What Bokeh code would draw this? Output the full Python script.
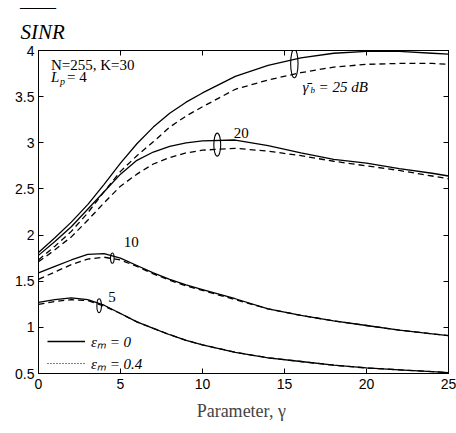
from bokeh.plotting import figure
from bokeh.models import Label, LinearAxis, Range1d, CustomJSTickFormatter, FixedTicker, Legend, LegendItem, Title
from bokeh.embed import file_html
from bokeh.resources import INLINE

# ---- data ----
gamma = [0, 1, 2, 3, 4, 5, 6, 7, 8, 9, 10, 12, 14, 16, 18, 20, 22, 24, 25]

sinr25_e0  = [1.81, 1.97, 2.14, 2.33, 2.55, 2.78, 2.99, 3.17, 3.32, 3.44, 3.54, 3.72, 3.84, 3.92, 3.97, 3.99, 3.99, 3.97, 3.96]
sinr25_e04 = [1.73, 1.88, 2.04, 2.24, 2.47, 2.69, 2.86, 3.01, 3.17, 3.29, 3.39, 3.58, 3.68, 3.76, 3.82, 3.85, 3.86, 3.86, 3.85]
sinr20_e0  = [1.78, 1.93, 2.09, 2.28, 2.47, 2.66, 2.81, 2.90, 2.96, 3.00, 3.02, 3.03, 2.97, 2.89, 2.82, 2.78, 2.72, 2.67, 2.64]
sinr20_e04 = [1.71, 1.84, 1.98, 2.16, 2.35, 2.53, 2.66, 2.77, 2.84, 2.89, 2.92, 2.94, 2.91, 2.86, 2.80, 2.75, 2.70, 2.64, 2.61]
sinr10_e0  = [1.59, 1.66, 1.73, 1.79, 1.80, 1.75, 1.67, 1.59, 1.52, 1.46, 1.41, 1.31, 1.20, 1.13, 1.07, 1.02, 0.97, 0.93, 0.91]
sinr10_e04 = [1.52, 1.60, 1.68, 1.74, 1.76, 1.73, 1.66, 1.58, 1.51, 1.45, 1.40, 1.30, 1.20, 1.13, 1.07, 1.02, 0.97, 0.93, 0.91]
sinr5_e0   = [1.27, 1.30, 1.32, 1.30, 1.24, 1.15, 1.06, 0.99, 0.92, 0.86, 0.81, 0.73, 0.67, 0.63, 0.59, 0.56, 0.54, 0.52, 0.51]
sinr5_e04  = [1.25, 1.28, 1.30, 1.29, 1.23, 1.15, 1.06, 0.99, 0.92, 0.86, 0.81, 0.73, 0.67, 0.63, 0.59, 0.56, 0.54, 0.52, 0.51]

x_ticks = [0, 5, 10, 15, 20, 25]
y_ticks = [0.5, 1, 1.5, 2, 2.5, 3, 3.5, 4]

# group markers (ellipses) : x, y, width, height
ell_x = [15.6, 10.9, 4.5, 3.7]
ell_y = [3.86, 2.98, 1.75, 1.235]
ell_w = [0.45, 0.42, 0.22, 0.28]
ell_h = [0.31, 0.25, 0.11, 0.15]

SERIF = "Liberation Serif"
SANS = "Liberation Sans"

p = figure(width=456, height=433, output_backend="svg", toolbar_location=None,
           x_range=Range1d(0, 25), y_range=Range1d(0.5, 4),
           min_border_left=38, min_border_right=8, min_border_top=47, min_border_bottom=60)
p.xgrid.visible = False
p.ygrid.visible = False
p.outline_line_color = "black"
p.outline_line_width = 1
p.background_fill_color = "white"
p.border_fill_color = "white"

for ax in (p.xaxis[0], p.yaxis[0]):
    ax.major_tick_in = 5
    ax.major_tick_out = 0
    ax.minor_tick_in = 0
    ax.minor_tick_out = 0
    ax.axis_line_color = "black"
    ax.major_label_text_font = SANS
    ax.major_label_text_font_size = "14px"
    ax.major_label_text_color = "black"
p.xaxis.ticker = FixedTicker(ticks=x_ticks)
p.yaxis.ticker = FixedTicker(ticks=y_ticks)
p.xaxis.major_label_standoff = 5
p.yaxis.major_label_standoff = 4
p.xaxis.axis_label = "Parameter,  γ"
p.xaxis.axis_label_text_font = SERIF
p.xaxis.axis_label_text_font_style = "normal"
p.xaxis.axis_label_text_font_size = "18px"
p.xaxis.axis_label_standoff = 9

empty = CustomJSTickFormatter(code="return ''")
ax_r = LinearAxis(ticker=FixedTicker(ticks=y_ticks), formatter=empty, major_tick_in=5, major_tick_out=0,
                  minor_tick_in=0, minor_tick_out=0, major_label_standoff=0)
ax_t = LinearAxis(ticker=FixedTicker(ticks=x_ticks), formatter=empty, major_tick_in=5, major_tick_out=0,
                  minor_tick_in=0, minor_tick_out=0, major_label_standoff=0)
p.add_layout(ax_r, "right")
p.add_layout(ax_t, "above")

# y-axis title: SINR with an overline (two-line title)
p.title = Title(text="‾‾‾‾‾\nSINR", text_font=SERIF, text_font_style="italic", text_font_size="21px",
                text_line_height=0.6, text_color="black", align="left", offset=-18, standoff=10,
                vertical_align="top")

LW = 1.3
DASH = "6 4"
solid_r = None
for ys in (sinr25_e0, sinr20_e0, sinr10_e0, sinr5_e0):
    r = p.line(gamma, ys, line_color="black", line_width=LW)
    if solid_r is None:
        solid_r = r
for ys in (sinr25_e04, sinr20_e04, sinr10_e04, sinr5_e04):
    p.line(gamma, ys, line_color="black", line_width=LW, line_dash=DASH)

p.ellipse(x=ell_x, y=ell_y, width=ell_w, height=ell_h, fill_color=None, line_color="black", line_width=1.1)

# legend (dotted sample for eps=0.4 as in the reference)
nan = float("nan")
dot_r = p.line([nan], [nan], line_color="black", line_width=1, line_dash="1 2")
leg = Legend(items=[LegendItem(label="εₘ = 0", renderers=[solid_r]),
                    LegendItem(label="εₘ = 0.4", renderers=[dot_r])],
             location=(9, 0), padding=0, margin=0, spacing=2,
             glyph_width=38, glyph_height=20, label_height=20, label_standoff=6,
             label_text_font=SERIF, label_text_font_size="15px", label_text_font_style="italic",
             label_text_color="black",
             background_fill_alpha=0, border_line_alpha=0)
p.add_layout(leg, "center")

def lab(x, y, t, size="15px", style="normal", xo=0, yo=0, align="left"):
    l = Label(x=x, y=y, text=t, x_offset=xo, y_offset=yo, text_font=SERIF, text_font_size=size,
              text_font_style=style, text_color="black", text_baseline="middle", text_align=align)
    p.add_layout(l)
    return l

# parameter text
lab(0.76, 3.84, "N=255, K=30", "15px")
lab(0.76, 3.71, "L", "15px", "italic")
lab(0.76, 3.71, "p", "10px", "italic", xo=9, yo=-4)
lab(0.76, 3.71, "= 4", "15px", xo=16)

# curve labels
lab(16.1, 3.6, "γ̄", "15px", "italic")
lab(16.1, 3.6, "b", "9px", "italic", xo=8, yo=-3)
lab(16.1, 3.6, "= 25 dB", "15px", "italic", xo=16)
lab(11.9, 3.11, "20", "15px")
lab(5.2, 1.92, "10", "15px")
lab(4.25, 1.33, "5", "15px")

open("out.html", "w").write(file_html(p, INLINE))
